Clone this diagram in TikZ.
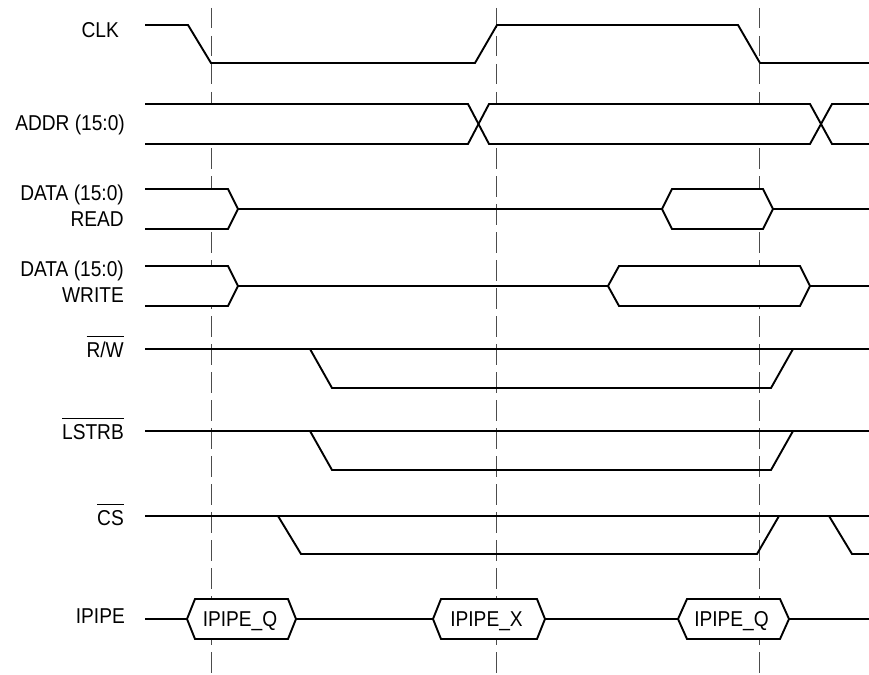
\documentclass[tikz,border=0pt]{standalone}
\usepackage{fontspec}
\setmainfont[FakeStretch=0.89]{Liberation Sans}
\newcommand{\ovl}[1]{\vbox{\hrule height 1.3pt\kern 4.5pt\hbox{#1}}}
\begin{document}
\begin{tikzpicture}[x=1pt,y=-1pt,
  sig/.style={line width=1.9pt},
  busfill/.style={fill=white},
  gridline/.style={black!70, line width=1pt, dash pattern=on 20.5pt off 7.5pt},
  lbl/.style={anchor=base east, inner sep=0pt, font=\fontsize{21.5}{25}\selectfont},
  boxtxt/.style={anchor=base, inner sep=0pt, font=\fontsize{21.5}{25}\selectfont}]
\useasboundingbox (0,0) rectangle (869,674);

% dashed reference lines
\foreach \x/\n in {211/da,496/db,759/dc}{
  \coordinate (\n t) at (\x,8);
  \coordinate (\n b) at (\x,674);
  \draw[gridline] (\n t) -- (\n b);
}

% labels
\node[lbl] (lclk) at (119,37.5) {CLK};
\node[lbl] (laddr) at (125,130.5) {ADDR (15:0)};
\node[lbl] (lrd1) at (124,200.5) {DATA (15:0)};
\node[lbl] (lrd2) at (124,226.5) {READ};
\node[lbl] (lwr1) at (124,276.5) {DATA (15:0)};
\node[lbl] (lwr2) at (124,302.5) {WRITE};
\node[lbl] (lrw) at (124,357) {\ovl{R/W}};
\node[lbl] (llstrb) at (124,439) {\ovl{LSTRB}};
\node[lbl] (lcs) at (124,525) {\ovl{CS}};
\node[lbl] (lipipe) at (125,623.5) {IPIPE};

% CLK
\draw[sig] (145,25) -- (188,25) -- (211,63) -- (475,63) -- (497,25) -- (738,25) -- (760,63) -- (869,63);

% ADDR
\fill[busfill] (145,104) -- (468,104) -- (478.5,124) -- (468,144) -- (145,144) -- cycle;
\fill[busfill] (478.5,124) -- (489,104) -- (810,104) -- (821,124) -- (810,144) -- (489,144) -- cycle;
\fill[busfill] (821,124) -- (832,104) -- (869,104) -- (869,144) -- (832,144) -- cycle;
\draw[sig] (145,104) -- (468,104) -- (489,144) -- (810,144) -- (832,104) -- (869,104);
\draw[sig] (145,144) -- (468,144) -- (489,104) -- (810,104) -- (832,144) -- (869,144);

% DATA READ
\filldraw[sig,busfill] (145,189) -- (228,189) -- (238,209) -- (228,229) -- (145,229);
\draw[sig] (238,209) -- (662,209);
\filldraw[sig,busfill] (662,209) -- (672,189) -- (763,189) -- (773,209) -- (763,229) -- (672,229) -- cycle;
\draw[sig] (773,209) -- (869,209);

% DATA WRITE
\filldraw[sig,busfill] (145,266) -- (228,266) -- (238,286) -- (228,306) -- (145,306);
\draw[sig] (238,286) -- (608,286);
\filldraw[sig,busfill] (608,286) -- (619,266) -- (800,266) -- (810,286) -- (800,306) -- (619,306) -- cycle;
\draw[sig] (810,286) -- (869,286);

% R/W
\draw[sig] (145,349) -- (869,349);
\draw[sig] (310,349) -- (332,388) -- (771,388) -- (793,349);

% LSTRB
\draw[sig] (145,431) -- (869,431);
\draw[sig] (310,431) -- (332,470) -- (771,470) -- (793,431);

% CS
\draw[sig] (145,516) -- (869,516);
\draw[sig] (278,516) -- (301,554) -- (757,554) -- (779,516);
\draw[sig] (829,516) -- (852,554) -- (869,554);

% IPIPE
\draw[sig] (145,619) -- (187,619);
\filldraw[sig,busfill] (187,619) -- (195,599) -- (288,599) -- (296,619) -- (288,639) -- (195,639) -- cycle;
\draw[sig] (296,619) -- (433,619);
\filldraw[sig,busfill] (433,619) -- (441,599) -- (537,599) -- (545,619) -- (537,639) -- (441,639) -- cycle;
\draw[sig] (545,619) -- (678,619);
\filldraw[sig,busfill] (678,619) -- (687,599) -- (780,599) -- (789,619) -- (780,639) -- (687,639) -- cycle;
\draw[sig] (789,619) -- (869,619);

\node[boxtxt] (q1) at (240,626.5) {IPIPE\_Q};
\node[boxtxt] (x1) at (486.5,626.5) {IPIPE\_X};
\node[boxtxt] (q2) at (731.5,626.5) {IPIPE\_Q};
\end{tikzpicture}
\end{document}
